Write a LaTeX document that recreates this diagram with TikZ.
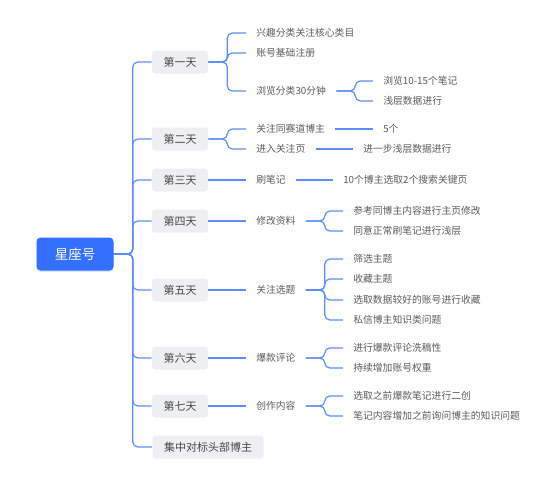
\documentclass[tikz,border=0pt]{standalone}
\usepackage{fontspec}
\setmainfont{Noto Sans CJK SC}
\usetikzlibrary{positioning, shadows}
\definecolor{rootblue}{HTML}{3370FF}
\definecolor{linkblue}{HTML}{5C8DFF}
\definecolor{daygray}{HTML}{EEEFF2}
\definecolor{daytext}{HTML}{474747}
\definecolor{leaftext}{HTML}{5A5A5A}

\begin{document}
\begin{tikzpicture}[x=1pt, y=-1pt, semithick,
  link/.style={draw=linkblue, line width=1.2pt, rounded corners=5pt},
  rootbox/.style={rectangle, rounded corners=4pt, fill=rootblue, text=white,
    minimum width=77pt, minimum height=33pt, font=\fontsize{13.5}{15}\selectfont,
    drop shadow={shadow xshift=0pt, shadow yshift=-1.5pt, fill=rootblue!30, opacity=0.6}},
  daybox/.style={rectangle, rounded corners=3pt, fill=daygray, text=daytext,
    minimum height=23pt, minimum width=56pt, inner xsep=11.5pt, font=\fontsize{11}{13}\selectfont},
  leaf/.style={anchor=west, inner xsep=10pt, inner ysep=2pt, text=leaftext,
    font=\fontsize{9.8}{12}\selectfont},
]
  \useasboundingbox (0,0) rectangle (560,480);

  % root and days
  \node[rootbox] (root) at (75,254) {星座号};
  \node[daybox] (day1) at (180,62) {第一天};
  \node[daybox] (day2) at (180,139) {第二天};
  \node[daybox] (day3) at (180,180) {第三天};
  \node[daybox] (day4) at (180,221) {第四天};
  \node[daybox] (day5) at (180,290) {第五天};
  \node[daybox] (day6) at (180,358) {第六天};
  \node[daybox] (day7) at (180,406) {第七天};
  \node[daybox] (focus) at (208,447) {集中对标头部博主};

  % second level
  \node[leaf] (interest) at (246,33) {兴趣分类关注核心类目};
  \node[leaf] (register) at (246,53) {账号基础注册};
  \node[leaf] (browse) at (246,91) {浏览分类30分钟};
  \node[leaf] (follow) at (246,129) {关注同赛道博主};
  \node[leaf] (enter) at (246,149) {进入关注页};
  \node[leaf] (notes) at (246,180) {刷笔记};
  \node[leaf] (profile) at (246,221) {修改资料};
  \node[leaf] (topics) at (246,290) {关注选题};
  \node[leaf] (hotcmt) at (246,358) {爆款评论};
  \node[leaf] (create) at (246,406) {创作内容};

  % third level
  \node[leaf] (browse1) at (373,81) {浏览10-15个笔记};
  \node[leaf] (browse2) at (373,101) {浅层数据进行};
  \node[leaf] (five) at (373,129) {5个};
  \node[leaf] (deeper) at (353,149) {进一步浅层数据进行};
  \node[leaf] (keywords) at (333,180) {10个博主选取2个搜索关键页};
  \node[leaf] (profile1) at (343,211) {参考同博主内容进行主页修改};
  \node[leaf] (profile2) at (343,231) {同意正常刷笔记进行浅层};
  \node[leaf] (topic1) at (343,259) {筛选主题};
  \node[leaf] (topic2) at (343,279) {收藏主题};
  \node[leaf] (topic3) at (343,300) {选取数据较好的账号进行收藏};
  \node[leaf] (topic4) at (343,320) {私信博主知识类问题};
  \node[leaf] (hot1) at (343,348) {进行爆款评论洗稿性};
  \node[leaf] (hot2) at (343,368) {持续增加账号权重};
  \node[leaf] (create1) at (343,396) {选取之前爆款笔记进行二创};
  \node[leaf] (create2) at (343,416) {笔记内容增加之前询问博主的知识问题};

  % trunk
  \foreach \d in {day1,day2,day3,day4,day5,day6,day7,focus}
    \draw[link] (root.east) -- ++(19,0) |- (\d.west);

  % brackets
  \foreach \p/\c in {day1/interest, day1/register, day1/browse, day2/follow, day2/enter,
                     browse/browse1, browse/browse2, profile/profile1, profile/profile2,
                     topics/topic1, topics/topic2, topics/topic3, topics/topic4,
                     hotcmt/hot1, hotcmt/hot2, create/create1, create/create2}
    \draw[link] (\p.east) -- ++(19,0) |- (\c.west);

  % straight links
  \path[link]
    (day3) edge (notes)
    (day4) edge (profile)
    (day5) edge (topics)
    (day6) edge (hotcmt)
    (day7) edge (create)
    (follow) edge (five)
    (enter) edge (deeper)
    (notes) edge (keywords);
\end{tikzpicture}
\end{document}
